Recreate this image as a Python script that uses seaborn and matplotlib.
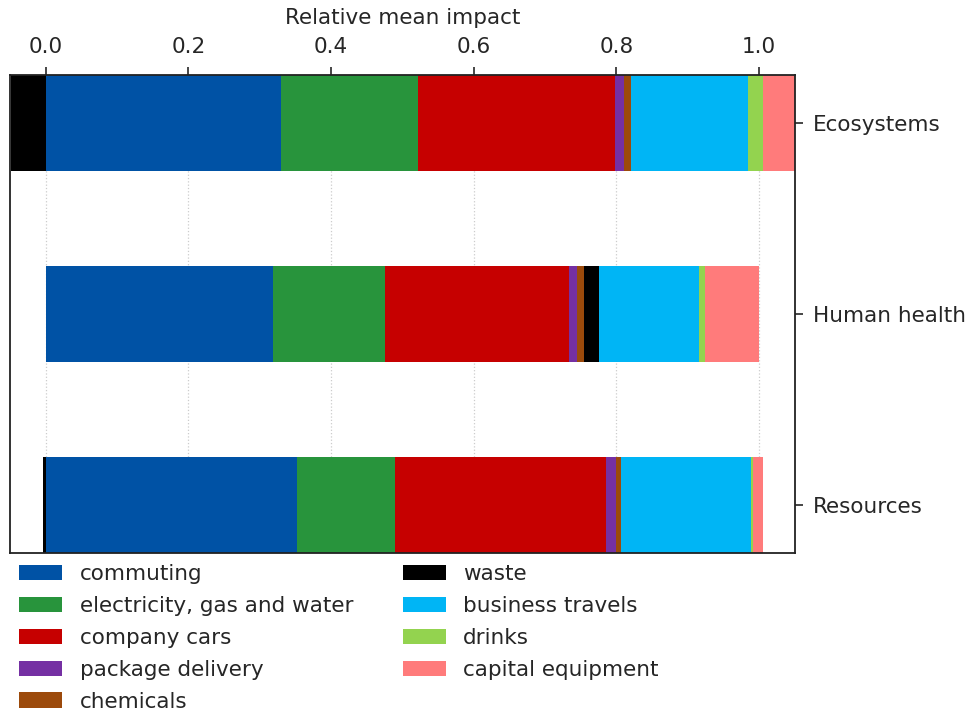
import matplotlib
matplotlib.use("Agg")
import matplotlib.pyplot as plt
import numpy as np
import pandas as pd
import seaborn as sns

categories = ["Ecosystems", "Human health", "Resources"]

components = [
    "commuting",
    "electricity, gas and water",
    "company cars",
    "package delivery",
    "chemicals",
    "waste",
    "business travels",
    "drinks",
    "capital equipment",
]

commuting = [0.330, 0.319, 0.352]
electricity = [0.192, 0.157, 0.137]
company_cars = [0.276, 0.258, 0.296]
package_delivery = [0.013, 0.011, 0.015]
chemicals = [0.009, 0.009, 0.007]
waste = [-0.048, 0.022, -0.004]
business_travels = [0.165, 0.139, 0.181]
drinks = [0.020, 0.009, 0.004]
capital_equipment = [0.048, 0.076, 0.014]

colors = [
    "#0052a5",
    "#28943c",
    "#c60000",
    "#7530a3",
    "#9c4a0b",
    "#000000",
    "#00b5f5",
    "#93d34f",
    "#ff7b7b",
]

values = pd.DataFrame(
    np.array([
        commuting, electricity, company_cars, package_delivery, chemicals,
        waste, business_travels, drinks, capital_equipment,
    ]).T,
    index=categories,
    columns=components,
)

# stack positives to the right and negatives to the left of zero
pos = values.clip(lower=0)
neg = values.clip(upper=0)
left_pos = pos.cumsum(axis=1) - pos
left_neg = neg.cumsum(axis=1) - neg
lefts = left_pos.where(values >= 0, left_neg)

sns.set_style("ticks")
plt.rcParams["font.family"] = ["DejaVu Sans"]
fs = 15.5

fig = plt.figure(figsize=(9.67, 7.15), dpi=100)
ax = fig.add_axes([0.0103, 0.2266, 0.8117, 0.6685])

for comp, color in zip(components, colors):
    df = pd.DataFrame({"category": categories, "value": values[comp].values})
    sns.barplot(
        data=df,
        x="value",
        y="category",
        orient="h",
        left=lefts[comp].values,
        color=color,
        saturation=1,
        width=0.5,
        linewidth=0,
        label=comp,
        ax=ax,
        legend=False,
    )

ax.set_xlim(-0.05, 1.05)
ax.set_ylim(2.25, -0.25)
ax.set_xticks([0.0, 0.2, 0.4, 0.6, 0.8, 1.0])
ax.xaxis.tick_top()
ax.xaxis.set_label_position("top")
ax.yaxis.tick_right()
ax.set_xlabel("Relative mean impact", fontsize=fs, labelpad=9)
ax.set_ylabel("")
ax.tick_params(axis="both", labelsize=fs, length=6, width=1.2, direction="out")
ax.tick_params(axis="x", pad=7)
ax.tick_params(axis="y", pad=7)
ax.grid(axis="x", linestyle=":", color="#cccccc", linewidth=0.9)
ax.grid(axis="y", visible=False)
ax.set_axisbelow(True)
for spine in ax.spines.values():
    spine.set_visible(True)
    spine.set_color("#222222")
    spine.set_linewidth(1.3)

handles, labels = ax.get_legend_handles_labels()
fig.legend(
    handles,
    labels,
    loc="upper left",
    bbox_to_anchor=(0.0, 0.238),
    ncol=2,
    frameon=False,
    fontsize=fs,
    labelspacing=0.55,
    columnspacing=2.3,
    handlelength=2.0,
)

fig.savefig("out.png", dpi=100)
